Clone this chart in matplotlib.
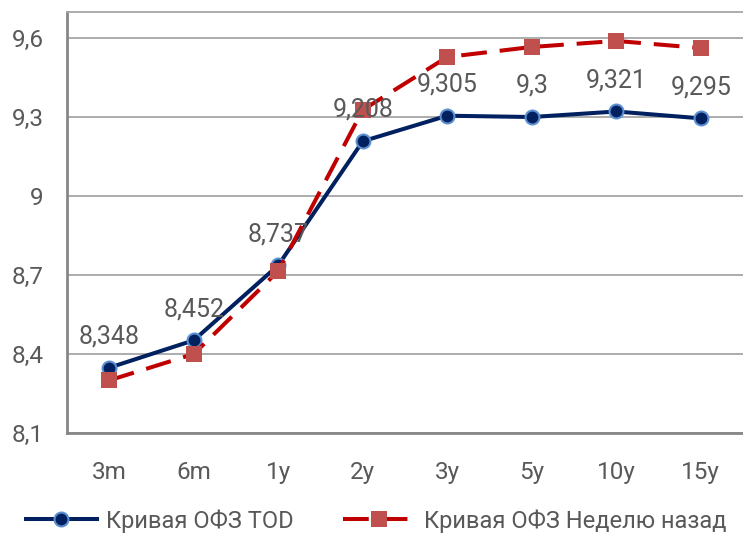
import matplotlib
matplotlib.use("Agg")
import matplotlib.pyplot as plt

categories = ["3m", "6m", "1y", "2y", "3y", "5y", "10y", "15y"]
tod_values = [8.348, 8.452, 8.737, 9.208, 9.305, 9.3, 9.321, 9.295]
week_ago_values = [8.30, 8.40, 8.715, 9.327, 9.528, 9.566, 9.589, 9.562]
tod_labels = ["8,348", "8,452", "8,737", "9,208", "9,305", "9,3", "9,321", "9,295"]
yticks = [8.1, 8.4, 8.7, 9.0, 9.3, 9.6]
ytick_labels = ["8,1", "8,4", "8,7", "9", "9,3", "9,6"]
series_names = ["Кривая ОФЗ TOD", "Кривая ОФЗ Неделю назад"]

plt.rcParams['font.family'] = ['Roboto', 'DejaVu Sans']
TXT = "#595959"

fig = plt.figure(figsize=(7.43, 5.33), dpi=100)
ax = fig.add_axes([67/743, 1 - 433/533, 1 - 67/743, (433 - 11.7)/533])

x = list(range(len(categories)))
ax.plot(x, tod_values, color="#002060", lw=2.9, marker="o", ms=10,
        mfc="#002060", mec="#5B8FD0", mew=1.5, zorder=3, label=series_names[0])
ax.plot(x, week_ago_values, color="#C00000", lw=2.9, dashes=(6.4, 3.2),
        marker="s", ms=11.3, mfc="#C0504D", mec="#C0504D", mew=0, zorder=4,
        label=series_names[1])

for xi, yi, lab in zip(x, tod_values, tod_labels):
    ax.annotate(lab, (xi, yi), xytext=(0, 22.5), textcoords="offset points",
                ha="center", va="center", fontsize=18, color=TXT, zorder=6)

ax.set_xlim(-0.5, 7.5)
ax.set_ylim(8.1, 9.7)
ax.set_xticks(x)
ax.set_xticklabels(categories)
ax.set_yticks(yticks)
ax.set_yticklabels(ytick_labels)
ax.tick_params(axis="both", length=0, labelsize=17.5, colors=TXT)
ax.tick_params(axis="y", pad=17)
ax.tick_params(axis="x", pad=20)
ax.grid(axis="y", color="#A6A6A6", lw=1.3)
ax.set_axisbelow(True)
for s in ["left", "bottom"]:
    ax.spines[s].set_color("#878787")
    ax.spines[s].set_linewidth(2)
ax.spines["top"].set_color("#A6A6A6")
ax.spines["top"].set_linewidth(1.3)
ax.spines["right"].set_visible(False)

fig.legend(loc="center", bbox_to_anchor=(0.506, 1 - 521/533), ncol=2, frameon=False,
           fontsize=17, labelcolor=TXT, handlelength=3.0, handletextpad=0.4,
           columnspacing=2.1, borderpad=0)

fig.savefig("out.png", dpi=100)
